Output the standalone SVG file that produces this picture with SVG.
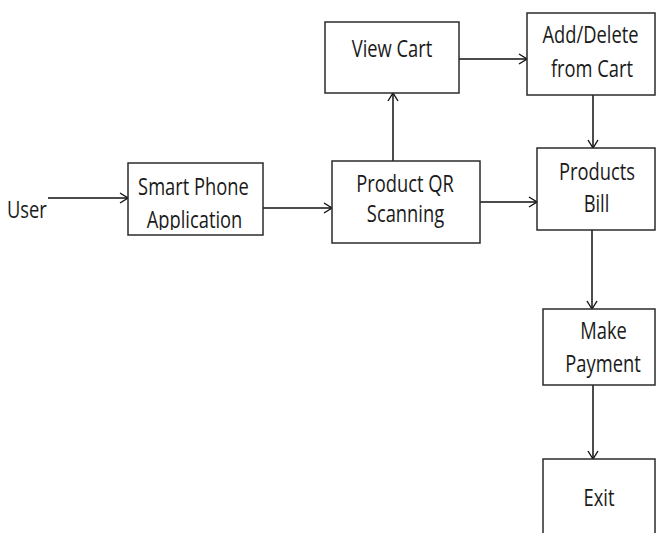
<svg xmlns="http://www.w3.org/2000/svg" width="657" height="533" viewBox="0 0 657 533">
  <style>
    .box { fill: #ffffff; stroke: #2b2b2b; stroke-width: 1.5; }
    .lbl { font-family: "Open Sans", "Liberation Sans", sans-serif; font-size: 23.5px; fill: #1a1a1a; text-anchor: middle; }
    .lbl.start { text-anchor: start; }
    .wire { fill: none; stroke: #111111; stroke-width: 1.5; }
  </style>
  <defs>
    <marker id="arrow" markerUnits="userSpaceOnUse" markerWidth="12" markerHeight="12" refX="9" refY="6" orient="auto">
      <path d="M1,1 L9,6 L1,11" fill="none" stroke="#111111" stroke-width="1.4"/>
    </marker>
    <clipPath id="clipApp">
      <rect x="128" y="163" width="135" height="67"/>
    </clipPath>
  </defs>

  <rect width="657" height="533" fill="#ffffff"/>

  <!-- connectors -->
  <g id="connectors">
    <line class="wire" x1="48" y1="198" x2="128" y2="198" marker-end="url(#arrow)"/>
    <line class="wire" x1="263" y1="208" x2="332" y2="208" marker-end="url(#arrow)"/>
    <line class="wire" x1="393" y1="161" x2="393" y2="93" marker-end="url(#arrow)"/>
    <line class="wire" x1="459" y1="59" x2="527" y2="59" marker-end="url(#arrow)"/>
    <line class="wire" x1="480" y1="202" x2="537" y2="202" marker-end="url(#arrow)"/>
    <line class="wire" x1="593" y1="95" x2="593" y2="148" marker-end="url(#arrow)"/>
    <line class="wire" x1="592" y1="230" x2="592" y2="309" marker-end="url(#arrow)"/>
    <line class="wire" x1="593" y1="385" x2="593" y2="459" marker-end="url(#arrow)"/>
  </g>

  <g id="user">
    <text class="lbl start" transform="translate(7,218) scale(0.78,1)">User</text>
  </g>

  <g id="smart-phone-app">
    <rect class="box" x="128" y="163" width="135" height="72"/>
    <text class="lbl" transform="translate(193.5,195) scale(0.78,1)">Smart Phone</text>
    <g clip-path="url(#clipApp)">
      <text class="lbl" transform="translate(194.5,228) scale(0.78,1)">Application</text>
    </g>
  </g>

  <g id="product-qr">
    <rect class="box" x="332" y="161" width="148" height="82"/>
    <text class="lbl" transform="translate(405,192) scale(0.78,1)">Product QR</text>
    <text class="lbl" transform="translate(405.5,222) scale(0.78,1)">Scanning</text>
  </g>

  <g id="view-cart">
    <rect class="box" x="325" y="22" width="134" height="71"/>
    <text class="lbl" transform="translate(392,57) scale(0.78,1)">View Cart</text>
  </g>

  <g id="add-delete">
    <rect class="box" x="527" y="13" width="128" height="82"/>
    <text class="lbl" transform="translate(590.5,43) scale(0.78,1)">Add/Delete</text>
    <text class="lbl" transform="translate(592,77) scale(0.78,1)">from Cart</text>
  </g>

  <g id="products-bill">
    <rect class="box" x="537" y="148" width="118" height="82"/>
    <text class="lbl" transform="translate(597,180) scale(0.78,1)">Products</text>
    <text class="lbl" transform="translate(596.5,212) scale(0.78,1)">Bill</text>
  </g>

  <g id="make-payment">
    <rect class="box" x="543" y="309" width="112" height="76"/>
    <text class="lbl" transform="translate(603.5,339) scale(0.78,1)">Make</text>
    <text class="lbl" transform="translate(603,372) scale(0.78,1)">Payment</text>
  </g>

  <g id="exit">
    <rect class="box" x="543" y="459" width="112" height="80"/>
    <text class="lbl" transform="translate(599,506) scale(0.78,1)">Exit</text>
  </g>
</svg>
